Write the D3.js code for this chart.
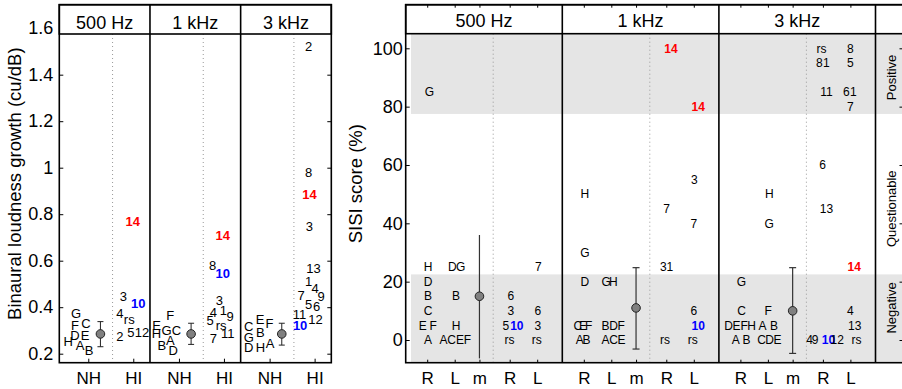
<!DOCTYPE html>
<html><head><meta charset="utf-8">
<script src="https://cdn.jsdelivr.net/npm/d3@7"></script>
<style>
body{margin:0;background:#fff;}
svg{display:block;font-family:"Liberation Sans",Arial,Helvetica,sans-serif;}
</style></head><body>
<svg id="chart" width="902" height="389"></svg>
<script>
// ---------------- DATA ----------------
const freqLabels = ["500 Hz", "1 kHz", "3 kHz"];

// Left chart: binaural loudness growth
const lgGroups = ["NH", "HI"];
const lgGroupPos = [1, 2];
const lgTicks = [0.2, 0.4, 0.6, 0.8, 1, 1.2, 1.4, 1.6];
// [panel, x position (NH=1, HI=2), value, label]
const lgLabels = [
  [0,0.727,0.374,"G"],[0,0.949,0.331,"C"],[0,0.704,0.320,"F"],[0,0.704,0.277,"D"],[0,0.927,0.277,"E"],
  [0,0.556,0.252,"H"],[0,0.816,0.237,"A"],[0,1.016,0.213,"B"],
  [0,1.987,0.768,"14"],[0,1.778,0.448,"3"],[0,2.111,0.417,"10"],[0,1.704,0.374,"4"],[0,1.911,0.349,"rs"],
  [0,1.704,0.273,"2"],[0,1.949,0.292,"5"],[0,2.193,0.292,"12"],
  [1,0.807,0.363,"F"],[1,0.502,0.323,"E"],[1,0.724,0.299,"G"],[1,0.947,0.299,"C"],[1,0.502,0.288,"H"],
  [1,0.807,0.259,"A"],[1,0.622,0.237,"B"],[1,0.873,0.216,"D"],
  [1,1.973,0.707,"14"],[1,1.751,0.580,"8"],[1,1.973,0.546,"10"],[1,1.900,0.431,"3"],[1,1.767,0.376,"4"],
  [1,1.989,0.388,"1"],[1,2.138,0.359,"9"],[1,1.693,0.342,"5"],[1,1.938,0.323,"rs"],[1,1.767,0.266,"7"],[1,2.084,0.285,"11"],
  [2,0.536,0.319,"C"],[2,0.789,0.348,"E"],[2,0.996,0.331,"F"],[2,0.796,0.292,"B"],[2,0.536,0.270,"G"],
  [2,0.536,0.228,"D"],[2,0.796,0.228,"H"],[2,1.011,0.245,"A"],
  [2,1.869,1.520,"2"],[2,1.869,0.978,"8"],[2,1.884,0.886,"14"],[2,1.884,0.746,"3"],[2,1.973,0.566,"13"],
  [2,1.869,0.510,"1"],[2,2.011,0.481,"4"],[2,2.144,0.448,"9"],[2,1.700,0.452,"7"],[2,1.869,0.412,"5"],
  [2,2.047,0.402,"6"],[2,1.662,0.369,"11"],[2,2.018,0.348,"12"],[2,1.678,0.323,"10"]
];
// [mean, low, high] for NH per panel
const lgMeans = [[0.285,0.230,0.338],[0.285,0.240,0.331],[0.285,0.237,0.331]];

// Right chart: SISI score
const sisiCats = ["R", "L", "m", "R", "L"];
const sisiCatPos = [1, 2, 2.9, 4, 5];
const sisiTicks = [0, 20, 40, 60, 80, 100];
const sisiClassNames = ["Negative", "Questionable", "Positive"];
const sisiClassBounds = [22.5, 77.5];
const sisiClassLabelAt = [11, 45, 90];
// [panel, x position (R=1, L=2, R=4, L=5), value, label]
const sisiLabels = [
  [0,1.08,85,"G"],[0,1.03,25,"H"],[0,1.03,20,"D"],[0,1.03,15,"B"],[0,1.03,10,"C"],[0,0.84,5,"E"],[0,1.22,5,"F"],[0,1.03,0,"A"],
  [0,1.91,25,"D"],[0,2.22,25,"G"],[0,2.05,15,"B"],[0,2.05,5,"H"],[0,1.59,0,"A"],[0,1.89,0,"C"],[0,2.19,0,"E"],[0,2.46,0,"F"],
  [0,4.04,15,"6"],[0,4.04,10,"3"],[0,3.86,5,"5"],[0,4.26,5,"10"],[0,3.99,0,"rs"],
  [0,5.04,25,"7"],[0,5.02,10,"6"],[0,5.02,5,"3"],[0,4.98,0,"rs"],
  [1,1.04,50,"H"],[1,1.04,30,"G"],[1,1.04,20,"D"],[1,1.81,20,"G"],[1,2.07,20,"H"],
  [1,0.78,5,"C"],[1,0.97,5,"E"],[1,1.18,5,"F"],[1,1.79,5,"B"],[1,2.08,5,"D"],[1,2.36,5,"F"],
  [1,0.85,0,"A"],[1,1.10,0,"B"],[1,1.79,0,"A"],[1,2.08,0,"C"],[1,2.37,0,"E"],
  [1,4.17,100,"14"],[1,4.01,45,"7"],[1,3.89,25,"3"],[1,4.13,25,"1"],[1,3.95,0,"rs"],
  [1,5.16,80,"14"],[1,5.02,55,"3"],[1,5.0,40,"7"],[1,5.0,10,"6"],[1,5.16,5,"10"],[1,4.96,0,"rs"],
  [2,2.05,50,"H"],[2,2.05,40,"G"],[2,1.04,20,"G"],[2,1.04,10,"C"],[2,2.01,10,"F"],
  [2,0.57,5,"D"],[2,0.86,5,"E"],[2,1.14,5,"F"],[2,1.41,5,"H"],[2,1.80,5,"A"],[2,2.22,5,"B"],
  [2,0.83,0,"A"],[2,1.22,0,"B"],[2,1.77,0,"C"],[2,2.06,0,"D"],[2,2.35,0,"E"],
  [2,3.95,100,"rs"],[2,3.87,95,"8"],[2,4.13,95,"1"],[2,4.13,85,"11"],[2,3.99,60,"6"],[2,4.13,45,"13"],
  [2,3.52,0,"4"],[2,3.72,0,"9"],[2,4.20,0,"10"],
  [2,5.0,100,"8"],[2,5.0,95,"5"],[2,4.85,85,"6"],[2,5.11,85,"1"],[2,5.0,80,"7"],[2,5.14,25,"14"],
  [2,5.0,10,"4"],[2,5.16,5,"13"],[2,4.52,0,"12"],[2,5.22,0,"rs"]
];
// [mean, low, high] per panel
const sisiMeans = [[15,-6.3,36],[11,-3.1,24.8],[10,-4.6,24.8]];

// ---------------- DRAWING ----------------
const svg = d3.select("#chart");
const colorOf = t => t === "14" ? "#ff0000" : (t === "10" ? "#0000ff" : "#000");
const weightOf = t => (t === "14" || t === "10") ? "bold" : "normal";

function styleAxis(g, size) {
  g.attr("font-family", null).attr("font-size", size);
  g.select(".domain").remove();
  g.selectAll("line").attr("stroke", "#000");
  g.selectAll("text").attr("fill", "#000");
}

// ===== Left chart =====
const LG = {x0: 59.3, pw: 90.67, top: 4.7, hb: 34, bottom: 362.7};
const LGright = LG.x0 + 3 * LG.pw;
const yL = d3.scaleLinear().domain([0.1613, 1.701]).range([LG.bottom, LG.top]);
const xL = d3.scaleLinear().domain([0.356, 2.371]).range([0, LG.pw]);
const gL = svg.append("g");

freqLabels.forEach((f, i) => {
  const p = gL.append("g").attr("transform", `translate(${LG.x0 + i * LG.pw},0)`);
  p.append("line").attr("x1", xL(1.54)).attr("x2", xL(1.54))
    .attr("y1", LG.hb).attr("y2", LG.bottom)
    .attr("stroke", "#999").attr("stroke-width", 1).attr("stroke-dasharray", "1,3");
  const ax = p.append("g").attr("transform", `translate(0,${LG.bottom})`)
    .call(d3.axisBottom(xL).tickValues(lgGroupPos)
      .tickFormat(d => lgGroups[lgGroupPos.indexOf(d)])
      .tickSizeInner(-4).tickSizeOuter(0).tickPadding(9));
  styleAxis(ax, 17);
  p.selectAll("text.lab").data(lgLabels.filter(d => d[0] === i)).join("text")
    .attr("class", "lab")
    .attr("x", d => xL(d[1])).attr("y", d => yL(d[2])).attr("dy", "0.35em")
    .attr("text-anchor", "middle").attr("font-size", 13)
    .attr("font-weight", d => weightOf(d[3])).attr("fill", d => colorOf(d[3]))
    .text(d => d[3]);
  const m = lgMeans[i], mx = xL(1.27);
  p.append("line").attr("x1", mx).attr("x2", mx).attr("y1", yL(m[1])).attr("y2", yL(m[2]))
    .attr("stroke", "#222").attr("stroke-width", 1);
  [m[1], m[2]].forEach(v => p.append("line").attr("x1", mx - 3).attr("x2", mx + 3)
    .attr("y1", yL(v)).attr("y2", yL(v)).attr("stroke", "#222").attr("stroke-width", 1));
  p.append("circle").attr("cx", mx).attr("cy", yL(m[0])).attr("r", 4.3)
    .attr("fill", "#808080").attr("stroke", "#222").attr("stroke-width", 1);
});
{
  const ay = gL.append("g").attr("transform", `translate(${LG.x0},0)`)
    .call(d3.axisLeft(yL).tickValues(lgTicks).tickFormat(d => String(d))
      .tickSizeInner(-4).tickSizeOuter(0).tickPadding(6));
  styleAxis(ay, 18);
  const ay2 = gL.append("g").attr("transform", `translate(${LGright},0)`)
    .call(d3.axisRight(yL).tickValues(lgTicks).tickFormat("")
      .tickSizeInner(-4).tickSizeOuter(0));
  styleAxis(ay2, 18);
  gL.append("rect").attr("x", LG.x0).attr("y", LG.top).attr("width", 3 * LG.pw).attr("height", LG.hb - LG.top)
    .attr("fill", "#fff").attr("stroke", "#000").attr("stroke-width", 1.6);
  gL.append("rect").attr("x", LG.x0).attr("y", LG.top).attr("width", 3 * LG.pw).attr("height", LG.bottom - LG.top)
    .attr("fill", "none").attr("stroke", "#000").attr("stroke-width", 1.6);
  [1, 2].forEach(k => gL.append("line").attr("x1", LG.x0 + k * LG.pw).attr("x2", LG.x0 + k * LG.pw)
    .attr("y1", LG.top).attr("y2", LG.bottom).attr("stroke", "#000").attr("stroke-width", 1.6));
  freqLabels.forEach((f, i) => gL.append("text").attr("x", LG.x0 + (i + 0.5) * LG.pw).attr("y", 29)
    .attr("text-anchor", "middle").attr("font-size", 18).text(f));
  gL.append("text").attr("transform", `translate(21,${(LG.top + LG.bottom) / 2}) rotate(-90)`)
    .attr("text-anchor", "middle").attr("font-size", 18.5).text("Binaural loudness growth (cu/dB)");
}

// ===== Right chart =====
const SR = {x0: 405.7, pw: 156.6, top: 4.7, hb: 33.7, bottom: 362.7, right: 903.5, grayX: 411};
const SRlab = SR.x0 + 3 * SR.pw;
const yR = d3.scaleLinear().domain([-7.78, 114.95]).range([SR.bottom, SR.top]);
const xR = d3.scaleLinear().domain([0.218, 5.913]).range([0, SR.pw]);
const gR = svg.append("g");

gR.append("rect").attr("x", SR.grayX).attr("y", yR(114.95)).attr("width", SR.right - SR.grayX)
  .attr("height", yR(sisiClassBounds[1]) - yR(114.95)).attr("fill", "#e5e5e5");
gR.append("rect").attr("x", SR.grayX).attr("y", yR(sisiClassBounds[0])).attr("width", SR.right - SR.grayX)
  .attr("height", SR.bottom - yR(sisiClassBounds[0])).attr("fill", "#e5e5e5");

freqLabels.forEach((f, i) => {
  const p = gR.append("g").attr("transform", `translate(${SR.x0 + i * SR.pw},0)`);
  p.append("line").attr("x1", xR(3.4)).attr("x2", xR(3.4))
    .attr("y1", SR.hb).attr("y2", SR.bottom)
    .attr("stroke", "#999").attr("stroke-width", 1).attr("stroke-dasharray", "1,3");
  const ax = p.append("g").attr("transform", `translate(0,${SR.bottom})`)
    .call(d3.axisBottom(xR).tickValues(sisiCatPos)
      .tickFormat(d => sisiCats[sisiCatPos.indexOf(d)])
      .tickSizeInner(-3).tickSizeOuter(0).tickPadding(9));
  styleAxis(ax, 17);
  p.selectAll("text.lab").data(sisiLabels.filter(d => d[0] === i)).join("text")
    .attr("class", "lab")
    .attr("x", d => xR(d[1])).attr("y", d => yR(d[2])).attr("dy", "0.35em")
    .attr("text-anchor", "middle").attr("font-size", 12)
    .attr("font-weight", d => weightOf(d[3])).attr("fill", d => colorOf(d[3]))
    .text(d => d[3]);
  const m = sisiMeans[i], mx = xR(2.9), cw = i === 0 ? 0 : 3.5;
  p.append("line").attr("x1", mx).attr("x2", mx).attr("y1", yR(m[1])).attr("y2", yR(m[2]))
    .attr("stroke", "#333").attr("stroke-width", 1.2);
  if (cw > 0) [m[1], m[2]].forEach(v => p.append("line").attr("x1", mx - cw).attr("x2", mx + cw)
    .attr("y1", yR(v)).attr("y2", yR(v)).attr("stroke", "#333").attr("stroke-width", 1.2));
  p.append("circle").attr("cx", mx).attr("cy", yR(m[0])).attr("r", 4.3)
    .attr("fill", "#808080").attr("stroke", "#222").attr("stroke-width", 1);
});
sisiClassNames.forEach((n, k) => gR.append("text")
  .attr("transform", `translate(${(SRlab + SR.right) / 2 + 1.5},${yR(sisiClassLabelAt[k])}) rotate(-90)`)
  .attr("dy", "0.35em").attr("text-anchor", "middle").attr("font-size", 13).text(n));
{
  const ay = gR.append("g").attr("transform", `translate(${SR.x0},0)`)
    .call(d3.axisLeft(yR).tickValues(sisiTicks).tickSizeInner(-4).tickSizeOuter(0).tickPadding(3));
  styleAxis(ay, 18);
  const ay2 = gR.append("g").attr("transform", `translate(${SR.right},0)`)
    .call(d3.axisRight(yR).tickValues(sisiTicks).tickFormat("").tickSizeInner(-4).tickSizeOuter(0));
  styleAxis(ay2, 18);
  gR.append("rect").attr("x", SR.x0).attr("y", SR.top).attr("width", SR.right - SR.x0).attr("height", SR.hb - SR.top)
    .attr("fill", "#fff").attr("stroke", "#000").attr("stroke-width", 1.6);
  freqLabels.forEach((f, i) => {
    const ax = gR.append("g").attr("transform", `translate(${SR.x0 + i * SR.pw},${SR.top})`)
      .call(d3.axisTop(xR).tickValues(sisiCatPos).tickFormat("").tickSizeInner(-3).tickSizeOuter(0));
    styleAxis(ax, 10);
    gR.append("text").attr("x", SR.x0 + (i + 0.5) * SR.pw).attr("y", 27)
      .attr("text-anchor", "middle").attr("font-size", 18).text(f);
  });
  gR.append("rect").attr("x", SR.x0).attr("y", SR.top).attr("width", SR.right - SR.x0).attr("height", SR.bottom - SR.top)
    .attr("fill", "none").attr("stroke", "#000").attr("stroke-width", 1.6);
  [1, 2, 3].forEach(k => gR.append("line").attr("x1", SR.x0 + k * SR.pw).attr("x2", SR.x0 + k * SR.pw)
    .attr("y1", SR.top).attr("y2", SR.bottom).attr("stroke", "#000").attr("stroke-width", 1.6));
  gR.append("text").attr("transform", `translate(362,${(SR.top + SR.bottom) / 2}) rotate(-90)`)
    .attr("text-anchor", "middle").attr("font-size", 18.5).text("SISI score (%)");
}
</script>
</body></html>
